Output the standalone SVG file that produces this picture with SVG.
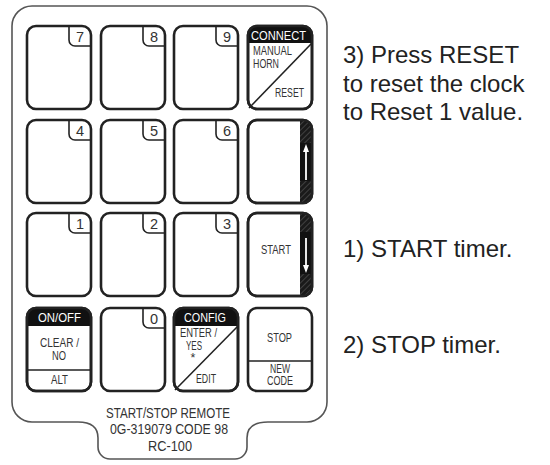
<svg xmlns="http://www.w3.org/2000/svg" width="550" height="465" viewBox="0 0 550 465">
<style>
.body{fill:#fff;stroke:#555;stroke-width:1.6}
.key{fill:#fff;stroke:#222;stroke-width:2.6}
.outline{fill:none;stroke:#222;stroke-width:2.6}
.ln{fill:none;stroke:#222;stroke-width:1.6}
.k{font-family:"Liberation Sans Narrow","Liberation Sans",Arial,sans-serif;fill:#333;font-size:12.5px}
.w{fill:#fff;font-size:13.5px}
.num{font-size:14.5px;text-anchor:middle}
.note{font-family:"Liberation Sans",Arial,sans-serif;font-size:24px;fill:#222}
.lbl{font-family:"Liberation Sans Narrow","Liberation Sans",Arial,sans-serif;font-size:15.5px;fill:#333;text-anchor:middle}
</style>
<defs>
<pattern id="hatch" patternUnits="userSpaceOnUse" width="4" height="4" patternTransform="rotate(45)">
<rect width="4" height="4" fill="#1a1a1a"/>
<line x1="0" y1="0" x2="0" y2="4" stroke="#777" stroke-width="0.8"/>
</pattern>
</defs>
<rect width="550" height="465" fill="#fff"/>
<path class="body" d="M32 6H307A20 20 0 0 1 327 26V402A20 20 0 0 1 307 422H268C255 422 247 426 247 438V447A12 12 0 0 1 235 459H110A12 12 0 0 1 98 447V438C98 426 90 422 78 422H32A20 20 0 0 1 12 402V26A20 20 0 0 1 32 6Z"/>

<g id="key7"><rect class="key" x="27" y="26" width="64" height="83" rx="9"/><path class="ln" d="M69 26V40A6 6 0 0 0 75 46H91"/><text class="k num" x="80" y="42">7</text></g>
<g id="key8"><rect class="key" x="101" y="26" width="64" height="83" rx="9"/><path class="ln" d="M143 26V40A6 6 0 0 0 149 46H165"/><text class="k num" x="154" y="42">8</text></g>
<g id="key9"><rect class="key" x="174" y="26" width="64" height="83" rx="9"/><path class="ln" d="M216 26V40A6 6 0 0 0 222 46H238"/><text class="k num" x="227" y="42">9</text></g>
<g id="keyConnect">
<rect class="key" x="248" y="26" width="64" height="83" rx="9"/>
<path d="M248 43V35A9 9 0 0 1 257 26H303A9 9 0 0 1 312 35V43Z" fill="#111"/>
<line class="ln" x1="312" y1="43" x2="249" y2="108"/>
<text class="k w" x="251" y="40" textLength="55" lengthAdjust="spacingAndGlyphs">CONNECT</text>
<text class="k" x="253" y="55" textLength="39" lengthAdjust="spacingAndGlyphs">MANUAL</text>
<text class="k" x="253" y="68" textLength="26" lengthAdjust="spacingAndGlyphs">HORN</text>
<text class="k" x="275" y="97" textLength="29" lengthAdjust="spacingAndGlyphs">RESET</text>
<rect class="outline" x="248" y="26" width="64" height="83" rx="9"/>
</g>

<g id="key4"><rect class="key" x="27" y="120" width="64" height="83" rx="9"/><path class="ln" d="M69 120V134A6 6 0 0 0 75 140H91"/><text class="k num" x="80" y="136">4</text></g>
<g id="key5"><rect class="key" x="101" y="120" width="64" height="83" rx="9"/><path class="ln" d="M143 120V134A6 6 0 0 0 149 140H165"/><text class="k num" x="154" y="136">5</text></g>
<g id="key6"><rect class="key" x="174" y="120" width="64" height="83" rx="9"/><path class="ln" d="M216 120V134A6 6 0 0 0 222 140H238"/><text class="k num" x="227" y="136">6</text></g>
<g id="keyUp">
<rect class="key" x="248" y="120" width="64" height="83" rx="9"/>
<path d="M300 120H303A9 9 0 0 1 312 129V194A9 9 0 0 1 303 203H300Z" fill="url(#hatch)"/>
<rect x="300" y="143" width="12" height="38" fill="#111"/>
<line x1="306" y1="150" x2="306" y2="180" stroke="#fff" stroke-width="1.8"/>
<path d="M306 144L303 152H309Z" fill="#fff"/>
<rect class="outline" x="248" y="120" width="64" height="83" rx="9"/>
</g>

<g id="key1"><rect class="key" x="27" y="213" width="64" height="83" rx="9"/><path class="ln" d="M69 213V227A6 6 0 0 0 75 233H91"/><text class="k num" x="80" y="229">1</text></g>
<g id="key2"><rect class="key" x="101" y="213" width="64" height="83" rx="9"/><path class="ln" d="M143 213V227A6 6 0 0 0 149 233H165"/><text class="k num" x="154" y="229">2</text></g>
<g id="key3"><rect class="key" x="174" y="213" width="64" height="83" rx="9"/><path class="ln" d="M216 213V227A6 6 0 0 0 222 233H238"/><text class="k num" x="227" y="229">3</text></g>
<g id="keyStart">
<rect class="key" x="248" y="213" width="64" height="83" rx="9"/>
<path d="M300 213H303A9 9 0 0 1 312 222V287A9 9 0 0 1 303 296H300Z" fill="url(#hatch)"/>
<rect x="300" y="232" width="12" height="42" fill="#111"/>
<line x1="306" y1="238" x2="306" y2="267" stroke="#fff" stroke-width="1.8"/>
<path d="M306 273L303 265H309Z" fill="#fff"/>
<rect class="outline" x="248" y="213" width="64" height="83" rx="9"/>
<text class="k" x="261" y="254" textLength="30" lengthAdjust="spacingAndGlyphs">START</text>
</g>

<g id="keyOnOff">
<rect class="key" x="27" y="308" width="64" height="83" rx="9"/>
<path d="M27 326V317A9 9 0 0 1 36 308H82A9 9 0 0 1 91 317V326Z" fill="#111"/>
<text class="k w" x="38" y="322" textLength="43" lengthAdjust="spacingAndGlyphs">ON/OFF</text>
<line class="ln" x1="27" y1="370" x2="91" y2="370"/>
<text class="k" x="40" y="347" textLength="39" lengthAdjust="spacingAndGlyphs">CLEAR /</text>
<text class="k" x="52" y="360" textLength="14" lengthAdjust="spacingAndGlyphs">NO</text>
<text class="k" x="51" y="384" textLength="17" lengthAdjust="spacingAndGlyphs">ALT</text>
<rect class="outline" x="27" y="308" width="64" height="83" rx="9"/>
</g>
<g id="key0"><rect class="key" x="101" y="308" width="64" height="83" rx="9"/><path class="ln" d="M143 308V322A6 6 0 0 0 149 328H165"/><text class="k num" x="154" y="324">0</text></g>
<g id="keyConfig">
<rect class="key" x="174" y="308" width="64" height="83" rx="9"/>
<path d="M174 326V317A9 9 0 0 1 183 308H229A9 9 0 0 1 238 317V326Z" fill="#111"/>
<text class="k w" x="184" y="322" textLength="42" lengthAdjust="spacingAndGlyphs">CONFIG</text>
<line class="ln" x1="238" y1="326" x2="175" y2="390"/>
<text class="k" x="180" y="337" textLength="37" lengthAdjust="spacingAndGlyphs">ENTER /</text>
<text class="k" x="186" y="350" textLength="16" lengthAdjust="spacingAndGlyphs">YES</text>
<text class="k" x="193" y="362" font-size="9" text-anchor="middle">*</text>
<text class="k" x="196" y="383" textLength="20" lengthAdjust="spacingAndGlyphs">EDIT</text>
<rect class="outline" x="174" y="308" width="64" height="83" rx="9"/>
</g>
<g id="keyStop">
<rect class="key" x="248" y="308" width="64" height="83" rx="9"/>
<line class="ln" x1="248" y1="361" x2="312" y2="361"/>
<text class="k" x="267" y="342" textLength="25" lengthAdjust="spacingAndGlyphs">STOP</text>
<text class="k" x="270" y="373" textLength="20" lengthAdjust="spacingAndGlyphs">NEW</text>
<text class="k" x="267" y="385" textLength="26" lengthAdjust="spacingAndGlyphs">CODE</text>
</g>

<g id="remoteLabel">
<text class="lbl" x="168" y="418" textLength="124" lengthAdjust="spacingAndGlyphs">START/STOP REMOTE</text>
<text class="lbl" x="169" y="434" textLength="118" lengthAdjust="spacingAndGlyphs">0G-319079 CODE 98</text>
<text class="lbl" x="170" y="451" textLength="44" lengthAdjust="spacingAndGlyphs">RC-100</text>
</g>

<g id="notes">
<text class="note" x="343" y="63">3) Press RESET</text>
<text class="note" x="343" y="92">to reset the clock</text>
<text class="note" x="343" y="120">to Reset 1 value.</text>
<text class="note" x="343" y="257">1) START timer.</text>
<text class="note" x="343" y="353">2) STOP timer.</text>
</g>
<g id="connectors"></g>
</svg>
